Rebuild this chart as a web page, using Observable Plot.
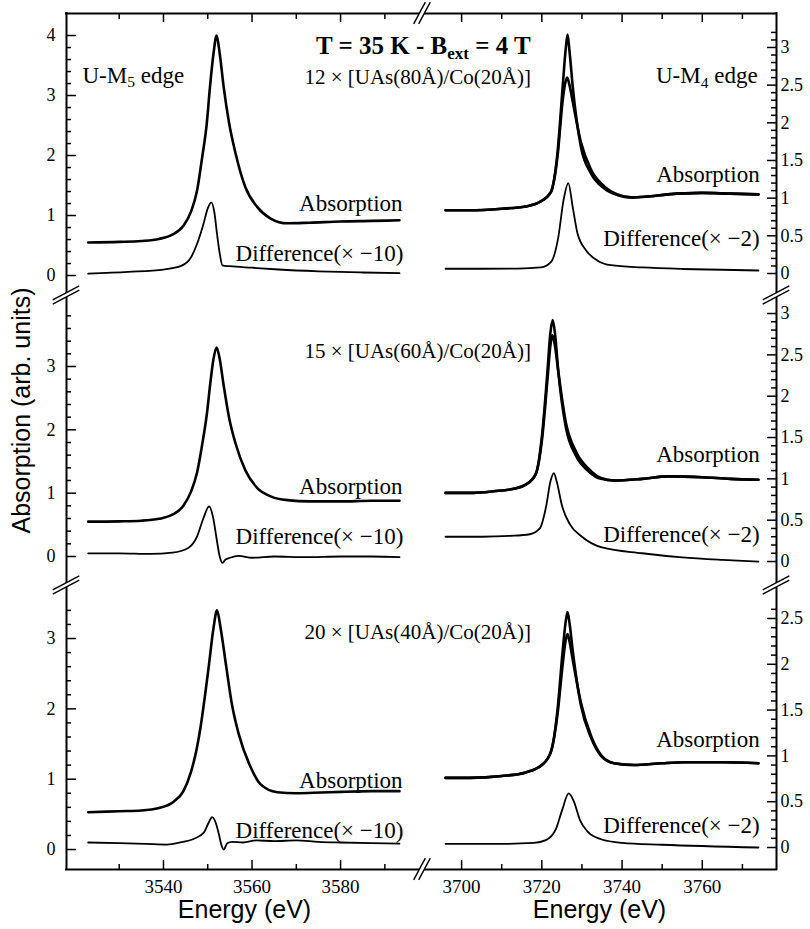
<!DOCTYPE html>
<html><head><meta charset="utf-8">
<script src="https://cdn.jsdelivr.net/npm/d3@7"></script>
<script src="https://cdn.jsdelivr.net/npm/@observablehq/plot@0.6"></script>
<style>
html,body{margin:0;padding:0;background:#fff;}
#chart{position:relative;width:810px;height:929px;}
#chart svg{position:absolute;left:0;top:0;}
</style></head><body><div id="chart"></div>
<script>
// ---------------- data ----------------
const m5Ticks = [3540, 3560, 3580];
const m5MinorTicks = [3530, 3550, 3570, 3590];
const m4Ticks = [3700, 3720, 3740, 3760];
const m4MinorTicks = [3710, 3730, 3750, 3770];
const leftTicksTop = [0, 1, 2, 3, 4];
const leftTicks = [0, 1, 2, 3];
const rightTicksTop = [0, 0.5, 1, 1.5, 2, 2.5, 3];
const rightTicksMid = [0, 0.5, 1, 1.5, 2, 2.5, 3];
const rightTicksBot = [0, 0.5, 1, 1.5, 2, 2.5];

const sampleLabels = ["12 × [UAs(80Å)/Co(20Å)]", "15 × [UAs(60Å)/Co(20Å)]", "20 × [UAs(40Å)/Co(20Å)]"];

// [energy eV, value]
const topM5Abs = [[3523,0.55],[3530,0.56],[3535,0.575],[3539,0.61],[3542,0.68],[3544.5,0.83],[3546.2,1.06],[3547.6,1.42],[3548.7,1.95],[3549.8,2.55],[3550.5,3.14],[3551.3,3.70],[3552.0,4.0],[3552.7,3.70],[3553.6,3.14],[3554.8,2.55],[3556.3,2.03],[3558.5,1.47],[3561.2,1.14],[3564.2,0.95],[3568,0.87],[3573,0.88],[3580,0.90],[3587,0.91],[3593.3,0.92]];
const topM5Diff = [[3523,0.03],[3532,0.06],[3540,0.10],[3544,0.16],[3546.2,0.30],[3547.7,0.55],[3549,0.85],[3550.0,1.12],[3550.8,1.22],[3551.5,1.05],[3552.1,0.69],[3552.7,0.37],[3553.3,0.17],[3555,0.155],[3560,0.13],[3566,0.10],[3575,0.07],[3585,0.05],[3593.3,0.04]];

const midM5Abs = [[3523,0.55],[3530,0.555],[3535,0.565],[3539,0.595],[3542,0.66],[3544.5,0.8],[3546.2,1.02],[3547.6,1.33],[3548.7,1.75],[3549.8,2.25],[3550.6,2.75],[3551.3,3.12],[3552.0,3.3],[3552.7,3.12],[3553.6,2.7],[3554.8,2.2],[3556.3,1.78],[3558.5,1.36],[3561.2,1.08],[3564.2,0.95],[3568,0.89],[3573,0.87],[3580,0.87],[3587,0.88],[3593.3,0.88]];
const midM5Diff = [[3523,0.05],[3530,0.05],[3537,0.04],[3542,0.06],[3545.5,0.13],[3547.5,0.3],[3549,0.6],[3550.3,0.79],[3551.2,0.62],[3552,0.28],[3552.7,0.0],[3553.3,-0.1],[3554,-0.05],[3555,-0.02],[3557,0.01],[3560,-0.02],[3565,0.0],[3572,-0.01],[3580,0.0],[3587,0.0],[3593.3,-0.01]];

const botM5Abs = [[3523,0.53],[3530,0.545],[3535,0.555],[3539,0.59],[3542.3,0.68],[3544.5,0.83],[3546.2,1.1],[3547.5,1.43],[3548.4,1.75],[3549.4,2.2],[3550.2,2.59],[3551.3,3.15],[3552.1,3.4],[3552.9,3.15],[3554.2,2.59],[3555.5,2.05],[3557.0,1.64],[3559.7,1.17],[3561.9,0.93],[3565.7,0.815],[3570,0.80],[3575.5,0.81],[3580,0.82],[3587,0.83],[3593.3,0.83]];
const botM5Diff = [[3523,0.10],[3530,0.09],[3536,0.08],[3540.8,0.07],[3543.8,0.10],[3546.8,0.15],[3549.1,0.24],[3550.2,0.38],[3551.0,0.46],[3551.8,0.38],[3552.5,0.22],[3553.1,0.06],[3553.6,0.0],[3554.4,0.09],[3555.5,0.11],[3558,0.10],[3561,0.13],[3565,0.12],[3570,0.13],[3575,0.11],[3580,0.10],[3587,0.09],[3593.3,0.085]];

const topM4AbsA = [[3696,0.84],[3702,0.84],[3710,0.86],[3716,0.89],[3719.5,0.95],[3722.25,1.08],[3723.9,1.6],[3725.2,2.48],[3725.9,2.95],[3726.4,3.17],[3726.9,2.95],[3727.7,2.48],[3729.75,1.68],[3732.25,1.33],[3735.5,1.13],[3738.9,1.04],[3742.25,1.01],[3746,1.02],[3751.4,1.05],[3759.75,1.07],[3767,1.06],[3774,1.05]];
const topM4AbsB = [[3696,0.84],[3702,0.84],[3710,0.86],[3716,0.89],[3719.5,0.95],[3722.25,1.08],[3723.9,1.55],[3725.2,2.3],[3725.8,2.52],[3726.3,2.6],[3726.9,2.5],[3727.7,2.28],[3729.75,1.74],[3732.25,1.38],[3735.5,1.16],[3738.9,1.05],[3742.25,1.01],[3746,1.02],[3751.4,1.05],[3759.75,1.07],[3767,1.06],[3774,1.05]];
const topM4Diff = [[3696,0.063],[3705,0.063],[3714,0.065],[3719.75,0.08],[3722.25,0.15],[3724.1,0.48],[3725.4,0.97],[3726.6,1.2],[3727.7,0.88],[3728.9,0.53],[3731,0.31],[3733.9,0.17],[3737.25,0.11],[3745,0.08],[3755,0.06],[3765,0.05],[3774,0.04]];

const midM4AbsA = [[3696,0.83],[3702,0.83],[3708,0.85],[3713,0.88],[3716,0.93],[3718.5,1.06],[3720.1,1.55],[3721.4,2.3],[3722.1,2.75],[3722.7,2.92],[3723.3,2.75],[3724.1,2.3],[3726,1.62],[3728.5,1.28],[3731.7,1.09],[3734.75,1.0],[3738,0.98],[3745,1.0],[3751.5,1.03],[3760,1.02],[3767,1.0],[3774,0.99]];
const midM4AbsB = [[3696,0.83],[3702,0.83],[3708,0.85],[3713,0.88],[3716,0.93],[3718.5,1.06],[3720.1,1.5],[3721.4,2.2],[3722.1,2.6],[3722.6,2.74],[3723.2,2.63],[3724.1,2.3],[3726,1.68],[3728.5,1.33],[3731.7,1.12],[3734.75,1.01],[3738,0.98],[3745,1.0],[3751.5,1.03],[3760,1.02],[3767,1.0],[3774,0.99]];
const midM4Diff = [[3696,0.30],[3705,0.30],[3712,0.31],[3717,0.33],[3719.5,0.40],[3721,0.65],[3722.2,0.98],[3723,1.07],[3723.8,0.95],[3725,0.68],[3727,0.45],[3730,0.30],[3735,0.17],[3745,0.10],[3755,0.05],[3765,0.02],[3774,0.0]];

const botM4AbsA = [[3696,0.76],[3702,0.76],[3710,0.78],[3716,0.82],[3720,0.9],[3722.3,1.05],[3723.9,1.5],[3725.2,2.15],[3725.9,2.45],[3726.4,2.57],[3726.9,2.45],[3727.7,2.15],[3729.75,1.55],[3732.25,1.2],[3734.75,1.0],[3738,0.92],[3743,0.9],[3750,0.92],[3755.5,0.93],[3765,0.93],[3774,0.92]];
const botM4AbsB = [[3696,0.76],[3702,0.76],[3710,0.78],[3716,0.82],[3720,0.9],[3722.3,1.05],[3723.9,1.45],[3725.2,2.0],[3725.9,2.25],[3726.4,2.33],[3726.9,2.25],[3727.7,2.05],[3729.75,1.58],[3732.25,1.22],[3734.75,1.01],[3738,0.92],[3743,0.9],[3750,0.92],[3755.5,0.93],[3765,0.93],[3774,0.92]];
const botM4Diff = [[3696,0.04],[3710,0.04],[3718,0.05],[3721,0.08],[3723.5,0.2],[3725,0.4],[3726.7,0.59],[3728,0.5],[3729.5,0.3],[3731.5,0.17],[3734.75,0.09],[3740,0.05],[3750,0.03],[3774,0.0]];

// ---------------- layout & style ----------------
const SERIF = "'Liberation Serif','Times New Roman',Times,serif";
const SANS = "'Liberation Sans',Arial,Helvetica,sans-serif";
const W = 810, H = 929;
const COLS = {L: [66, 422], R: [422, 776]};
const ROWS = {top: [13, 295], mid: [295, 585], bot: [585, 869]};
const XDOM = {L: [3518.1, 3598.5], R: [3690.25, 3778.5]};

const panelSpecs = [
  {col: "L", row: "top", yDomain: [-0.333, 4.367], yTicks: leftTicksTop, abs: [topM5Abs], diff: topM5Diff,
   labels: [
     {text: "U-M_{5} edge", x: 3521.7, y: 3.217, anchor: "start"},
     {text: "Absorption", x: 3594.0, y: 1.083, anchor: "end"},
     {text: "Difference(× −10)", x: 3594.2, y: 0.25, anchor: "end"},
     {text: "T = 35 K - B_{ext} = 4 T", x: 3598.7, y: 3.70, anchor: "middle", size: 25, weight: "bold"},
     {text: sampleLabels[0], x: 3597.4, y: 3.20, anchor: "middle", size: 21}
   ]},
  {col: "L", row: "mid", yDomain: [-0.458, 4.121], yTicks: leftTicks, abs: [midM5Abs], diff: midM5Diff, ylabel: true,
   labels: [
     {text: sampleLabels[1], x: 3597.4, y: 3.142, anchor: "middle", size: 21},
     {text: "Absorption", x: 3594.0, y: 0.99, anchor: "end"},
     {text: "Difference(× −10)", x: 3594.2, y: 0.19, anchor: "end"}
   ]},
  {col: "L", row: "bot", yDomain: [-0.284, 3.754], yTicks: leftTicks, abs: [botM5Abs], diff: botM5Diff,
   labels: [
     {text: sampleLabels[2], x: 3597.4, y: 3.0, anchor: "middle", size: 21},
     {text: "Absorption", x: 3594.0, y: 0.88, anchor: "end"},
     {text: "Difference(× −10)", x: 3594.2, y: 0.165, anchor: "end"}
   ]},
  {col: "R", row: "top", yDomain: [-0.292, 3.451], yTicks: rightTicksTop, abs: [topM4AbsA, topM4AbsB], diff: topM4Diff,
   labels: [
     {text: "U-M_{4} edge", x: 3773.8, y: 2.522, anchor: "end"},
     {text: "Absorption", x: 3774.3, y: 1.208, anchor: "end"},
     {text: "Difference(× −2)", x: 3774.3, y: 0.371, anchor: "end"}
   ]},
  {col: "R", row: "mid", yDomain: [-0.290, 3.218], yTicks: rightTicksMid, abs: [midM4AbsA, midM4AbsB], diff: midM4Diff,
   labels: [
     {text: "Absorption", x: 3774.3, y: 1.198, anchor: "end"},
     {text: "Difference(× −2)", x: 3774.3, y: 0.242, anchor: "end"}
   ]},
  {col: "R", row: "bot", yDomain: [-0.240, 2.860], yTicks: rightTicksBot, abs: [botM4AbsA, botM4AbsB], diff: botM4Diff,
   labels: [
     {text: "Absorption", x: 3774.3, y: 1.102, anchor: "end"},
     {text: "Difference(× −2)", x: 3774.3, y: 0.153, anchor: "end"}
   ]}
];

function makePanel(p) {
  const [px0, px1] = COLS[p.col], [py0, py1] = ROWS[p.row];
  const pw = px1 - px0, ph = py1 - py0;
  const xd = XDOM[p.col], yd = p.yDomain;
  const isL = p.col === "L";
  const marks = [];
  const frame = {strokeWidth: 2, strokeLinecap: "square"};
  marks.push(Plot.ruleX([isL ? xd[0] : xd[1]], frame));
  if (p.row === "top") marks.push(Plot.ruleY([yd[1]], frame));
  if (p.row === "bot") marks.push(Plot.ruleY([yd[0]], frame));

  const step = isL ? 0.2 : 0.1;
  const minor = d3.range(0, yd[1] - 0.19, step).map(v => +v.toFixed(2)).filter(v => !p.yTicks.includes(v));
  if (isL) {
    marks.push(Plot.ruleY(p.yTicks, {insetRight: pw - 10, strokeWidth: 1.5}));
    marks.push(Plot.ruleY(minor, {insetRight: pw - 5, strokeWidth: 1.5}));
    marks.push(Plot.axisY(p.yTicks, {anchor: "left", tickSize: 0, tickPadding: 11, tickFormat: d => String(d), label: null, fontSize: 18, fontFamily: SERIF}));
  } else {
    marks.push(Plot.ruleY(p.yTicks, {insetLeft: pw - 9, strokeWidth: 1.5}));
    marks.push(Plot.ruleY(minor, {insetLeft: pw - 5, strokeWidth: 1.5}));
    marks.push(Plot.axisY(p.yTicks, {anchor: "right", tickSize: 0, tickPadding: 4, tickFormat: d => String(d), label: null, fontSize: 18, fontFamily: SERIF}));
  }
  const xt = isL ? m5Ticks : m4Ticks, xm = isL ? m5MinorTicks : m4MinorTicks;
  if (p.row === "top") {
    marks.push(Plot.ruleX(xt, {insetBottom: ph - 9, strokeWidth: 1.5}));
    marks.push(Plot.ruleX(xm, {insetBottom: ph - 6, strokeWidth: 1.5}));
  }
  if (p.row === "bot") {
    marks.push(Plot.ruleX(xt, {insetTop: ph - 9, strokeWidth: 1.5}));
    marks.push(Plot.ruleX(xm, {insetTop: ph - 5, strokeWidth: 1.5}));
    marks.push(Plot.axisX(xt, {anchor: "bottom", tickSize: 0, tickPadding: 9.5, tickFormat: d => String(d), label: null, fontSize: 19, fontFamily: SERIF}));
    marks.push(Plot.text(["Energy (eV)"], {frameAnchor: "bottom", dy: 48, lineAnchor: "bottom", fontSize: 25, fontFamily: SANS}));
  }
  if (p.ylabel) {
    marks.push(Plot.text(["Absorption (arb. units)"], {frameAnchor: "left", textAnchor: "middle", rotate: -90, dx: -45, dy: -30, fontSize: 25, fontFamily: SANS}));
  }
  for (const a of p.abs) marks.push(Plot.line(a, {x: d => d[0], y: d => d[1], curve: "monotone-x", strokeWidth: 2.6, strokeLinejoin: "round"}));
  marks.push(Plot.line(p.diff, {x: d => d[0], y: d => d[1], curve: "monotone-x", strokeWidth: 1.8, strokeLinejoin: "round"}));
  for (const l of p.labels) {
    marks.push(Plot.text([l], {x: "x", y: "y", text: "text", textAnchor: l.anchor, lineAnchor: "bottom",
      fontSize: l.size || 23, fontWeight: l.weight || "normal", fontFamily: SERIF}));
  }
  return Plot.plot({
    width: W, height: H,
    marginLeft: px0, marginRight: W - px1, marginTop: py0, marginBottom: H - py1,
    x: {domain: xd, axis: p.row === "bot" ? undefined : null},
    y: {domain: yd},
    style: {background: "transparent", overflow: "visible"},
    marks
  });
}

function richify(svg) {
  d3.select(svg).selectAll("text").each(function() {
    const s = this.textContent;
    if (!/_\{/.test(s)) return;
    const fs = parseFloat(getComputedStyle(this).fontSize) || 20;
    const parts = s.split(/(_\{[^}]*\})/);
    this.textContent = "";
    let shifted = false;
    for (const part of parts) {
      if (!part) continue;
      const m = part.match(/^_\{([^}]*)\}$/);
      const t = d3.select(this).append("tspan");
      if (m) { t.text(m[1]).attr("font-size", (fs * 0.68).toFixed(1)).attr("dy", (fs * 0.2).toFixed(1)); shifted = true; }
      else { t.text(part); if (shifted) { t.attr("dy", (-fs * 0.2).toFixed(1)); shifted = false; } }
    }
  });
}

const chart = document.getElementById("chart");
const plots = {};
for (const p of panelSpecs) {
  const svg = makePanel(p);
  chart.appendChild(svg);
  richify(svg);
  plots[p.row + p.col] = svg;
}

// axis break marks, positioned through the panels' scales
const ov = d3.select(chart).append("svg").attr("width", W).attr("height", H);
function breakMark(cx, cy, steep) {
  let a, b;
  if (steep) {
    const dx = 5.8, dy = 10.8, g = 2.5;
    a = [[cx - g - dx, cy + dy], [cx - g + dx, cy - dy]];
    b = [[cx + g - dx, cy + dy], [cx + g + dx, cy - dy]];
  } else {
    const dx = 13.3, dy = 7, g = 2.1;
    a = [[cx - dx, cy + dy - g], [cx + dx, cy - dy - g]];
    b = [[cx - dx, cy + dy + g], [cx + dx, cy - dy + g]];
  }
  ov.append("path").attr("d", `M${a[0]}L${a[1]}L${b[1]}L${b[0]}Z`).attr("fill", "white");
  for (const l of [a, b]) ov.append("path").attr("d", `M${l[0]}L${l[1]}`).attr("stroke", "black").attr("stroke-width", 1.4).attr("fill", "none");
}
function px(svg, xv, yv) { return [svg.scale("x").apply(xv), svg.scale("y").apply(yv)]; }
const tl = panelSpecs[0], ml = panelSpecs[1], bl = panelSpecs[2], tr = panelSpecs[3], mr = panelSpecs[4];
breakMark(...px(plots.topL, XDOM.L[1], tl.yDomain[1]), true);
breakMark(...px(plots.botL, XDOM.L[1], bl.yDomain[0]), true);
breakMark(...px(plots.topL, XDOM.L[0], tl.yDomain[0]), false);
breakMark(...px(plots.midL, XDOM.L[0], ml.yDomain[0]), false);
breakMark(...px(plots.topR, XDOM.R[1], tr.yDomain[0]), false);
breakMark(...px(plots.midR, XDOM.R[1], mr.yDomain[0]), false);
</script></body></html>
